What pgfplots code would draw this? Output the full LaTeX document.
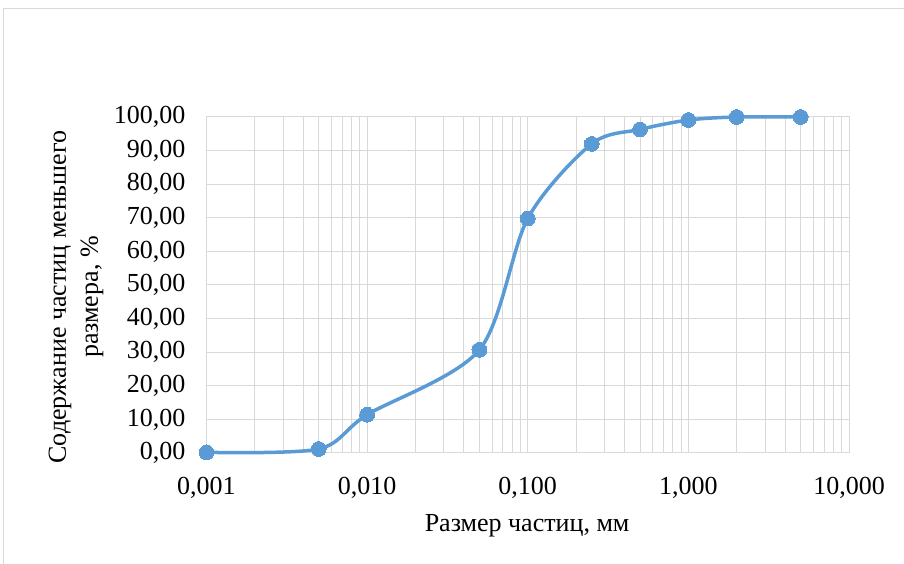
\documentclass[border=0pt]{standalone}
\usepackage{fontspec}
\setmainfont{Liberation Serif}
\usepackage{pgfplots}
\pgfplotsset{compat=1.18}
\definecolor{gridc}{RGB}{217,217,217}
\definecolor{ser}{RGB}{91,155,213}
\begin{document}
\fontsize{26}{32}\selectfont
\begin{tikzpicture}[x=1pt,y=1pt]
\useasboundingbox (-206.5,-111) rectangle (697.5,453);
\draw[gridc,line width=1pt] (-202.5,-111) -- (-202.5,444) -- (697.5,444);
\begin{axis}[
  at={(0,0)}, anchor=south west,
  scale only axis,
  width=642.5pt, height=336pt,
  xmode=log,
  xmin=0.001, xmax=10,
  ymin=0, ymax=100,
  xtick={0.001,0.01,0.1,1,10},
  xticklabels={{0,001},{0,010},{0,100},{1,000},{10,000}},
  ytick={0,10,...,100},
  yticklabels={{0,00},{10,00},{20,00},{30,00},{40,00},{50,00},{60,00},{70,00},{80,00},{90,00},{100,00}},
  grid=both,
  xminorgrids=true,
  major grid style={gridc,line width=1pt},
  minor grid style={gridc,line width=1pt},
  axis line style={gridc,line width=1pt},
  major tick length=0pt, minor tick length=0pt,
  tick style={draw=none},
  xticklabel style={anchor=north, inner sep=0pt, yshift=-24pt},
  yticklabel style={anchor=east, inner sep=0pt, xshift=-21pt},
  xlabel={Размер частиц, мм},
  ylabel={Содержание частиц меньшего\\размера, \%},
  xlabel style={at={(axis description cs:0.499,-0.216)}, anchor=center, inner sep=0pt},
  ylabel style={at={(axis description cs:-0.203,0.464)}, anchor=center, rotate=0, align=center, inner sep=0pt},
  clip=false,
]
\addplot[color=ser, line width=3.5pt, smooth, mark=*, mark size=7.4pt, mark options={fill=ser, draw=ser, line width=0pt}]
coordinates {
(0.001,0.2)
(0.005,1.2)
(0.01,11.4)
(0.05,30.7)
(0.1,69.8)
(0.25,92.0)
(0.5,96.3)
(1,99.1)
(2,100)
(5,100)
};
\end{axis}
\end{tikzpicture}
\end{document}
